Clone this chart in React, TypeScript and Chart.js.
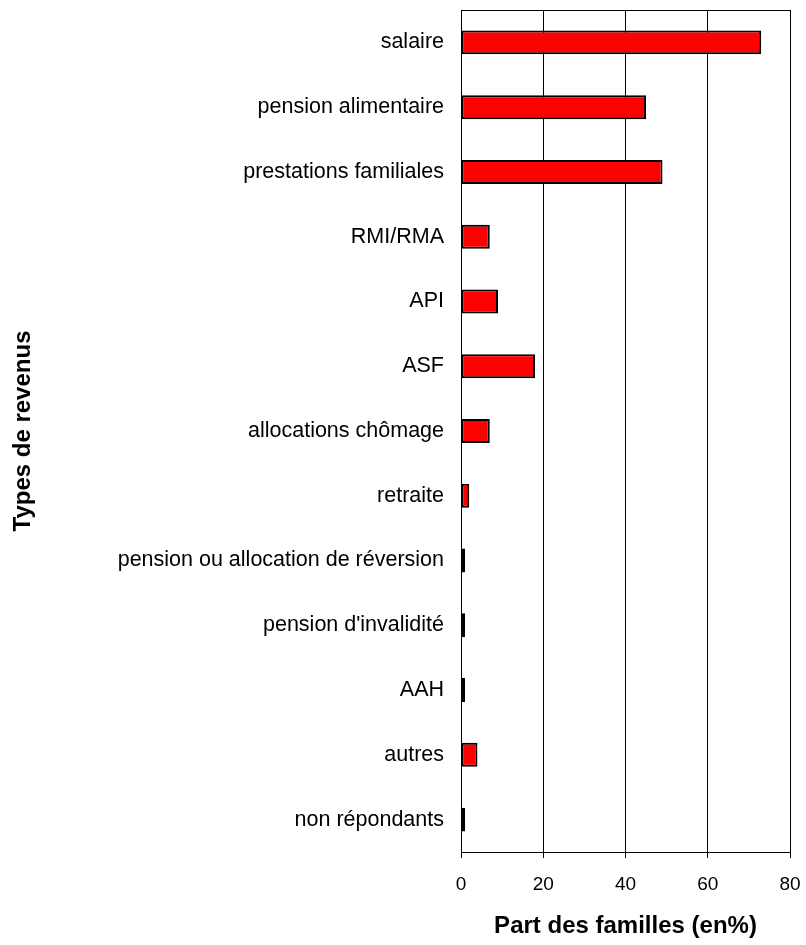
import React, { useEffect, useRef } from "react";
import { Chart, registerables } from "chart.js";

Chart.register(...registerables);

const categories = [
  "salaire",
  "pension alimentaire",
  "prestations familiales",
  "RMI/RMA",
  "API",
  "ASF",
  "allocations chômage",
  "retraite",
  "pension ou allocation de réversion",
  "pension d'invalidité",
  "AAH",
  "autres",
  "non répondants",
];

const values = [73, 45, 49, 7, 9, 18, 7, 2, 1, 1, 1, 4, 1];

const xTicks = [0, 20, 40, 60, 80];

const xTitle = "Part des familles (en%)";
const yTitle = "Types de revenus";

const FONT = "'Liberation Sans', Arial, sans-serif";

const frame = {
  id: "frame",
  afterDraw(chart: any) {
    const { ctx, chartArea: a } = chart;
    ctx.save();
    ctx.strokeStyle = "#000";
    ctx.lineWidth = 1;
    ctx.strokeRect(Math.round(a.left) + 0.5, Math.round(a.top) + 0.5, Math.round(a.right - a.left), Math.round(a.bottom - a.top));
    ctx.restore();
  },
};

export default function App() {
  const ref = useRef<HTMLCanvasElement>(null);
  useEffect(() => {
    if (!ref.current) return;
    const chart = new Chart(ref.current, {
      type: "bar",
      data: {
        labels: categories,
        datasets: [
          {
            data: values,
            backgroundColor: "#FF0000",
            borderColor: "#000000",
            borderWidth: 2,
            borderSkipped: false,
            categoryPercentage: 1,
            barPercentage: 0.37,
          },
        ],
      },
      options: {
        indexAxis: "y",
        animation: false,
        responsive: false,
        layout: { padding: { top: 10, right: 16, left: 0, bottom: 0 } },
        plugins: { legend: { display: false }, tooltip: { enabled: false } },
        scales: {
          x: {
            min: 0,
            max: 80,
            afterBuildTicks: (scale: any) => {
              scale.ticks = xTicks.map((v) => ({ value: v }));
            },
            afterFit: (scale: any) => {
              scale.height = 93;
              scale.paddingLeft = 0;
              scale.paddingRight = 0;
            },
            grid: { color: "#000", lineWidth: 1, tickLength: 6, drawTicks: true },
            border: { display: true, color: "#000", width: 1 },
            ticks: {
              color: "#000",
              font: { family: FONT, size: 19 },
              padding: 15,
            },
            title: {
              display: true,
              text: xTitle,
              color: "#000",
              font: { family: FONT, size: 24, weight: "bold" },
              padding: { top: 4, bottom: 4 },
            },
          },
          y: {
            afterFit: (scale: any) => {
              scale.width = 461;
              scale.paddingTop = 0;
              scale.paddingBottom = 0;
            },
            grid: { display: false, drawTicks: false },
            border: { display: true, color: "#000", width: 1 },
            ticks: {
              color: "#000",
              font: { family: FONT, size: 21.5 },
              padding: 17,
              autoSkip: false,
            },
            title: {
              display: true,
              text: yTitle,
              color: "#000",
              font: { family: FONT, size: 24, weight: "bold" },
              padding: { top: 9, bottom: 0 },
            },
          },
        },
      },
      plugins: [frame],
    });
    return () => chart.destroy();
  }, []);
  return (
    <canvas
      ref={ref}
      width={806}
      height={945}
      style={{ position: "absolute", left: 0, top: 0, width: 806, height: 945 }}
    />
  );
}
